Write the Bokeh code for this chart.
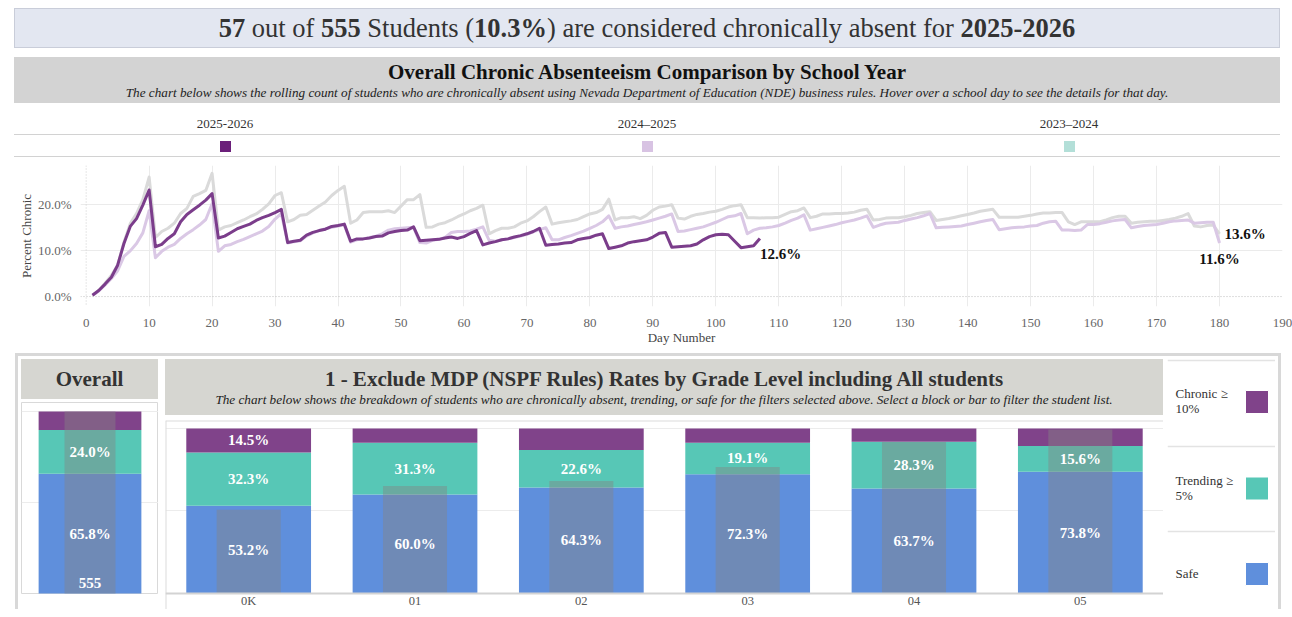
import textwrap
from bokeh.plotting import figure
from bokeh.models import (Div, FactorRange, Range1d, NumeralTickFormatter, FixedTicker,
                          Span, ColumnDataSource)
from bokeh.layouts import column, row
from bokeh.embed import file_html
from bokeh.resources import INLINE
from bokeh.core.properties import value

SERIF = "Liberation Serif"
CSS_FONT = "'Liberation Serif', 'Times New Roman', serif"

# ---------------- data ----------------
current_year = "2025-2026"
chronic_count = 57
total_students = 555
chronic_rate = 10.3

years = ["2025-2026", "2024–2025", "2023–2024"]
legend_colors = ["#6b1f7a", "#d8c3e3", "#b3dfd8"]
line_colors = ["#7b3d8b", "#dac8e5", "#dadada"]

# percent chronic by day number (day 1 ..)
pct_2025_26 = [0.3, 1.3, 2.7, 4.2, 6.8, 11.5, 15.2, 16.9, 19.8, 23.1,
               10.8, 11.3, 12.6, 13.6, 16.2, 17.8, 18.8, 19.8, 20.9, 22.3,
               12.7, 13.1, 13.9, 14.7, 15.2, 15.7, 16.5, 17.1, 17.6, 18.2,
               18.9, 11.7, 12.0, 12.2, 13.3, 13.9, 14.3, 14.6, 15.2, 15.4,
               15.7, 12.0, 12.5, 12.5, 12.7, 13.0, 13.1, 13.8, 14.1, 14.3,
               14.4, 15.1, 12.1, 12.2, 12.3, 12.4, 12.7, 12.9, 12.6, 13.0,
               13.7, 14.3, 11.2, 11.6, 11.9, 12.3, 12.5, 12.9, 13.2, 13.6,
               14.1, 14.8, 11.1, 11.3, 11.4, 11.6, 11.7, 12.3, 12.6, 12.8,
               13.3, 13.6, 10.4, 10.7, 11.0, 11.6, 11.9, 12.1, 12.3, 12.9,
               13.7, 13.9, 10.7, 10.8, 10.9, 11.0, 11.4, 12.3, 13.0, 13.4,
               13.5, 13.4, 12.0, 10.6, 10.8, 11.0, 12.6]

pct_2024_25 = [0.3, 1.2, 2.5, 3.9, 5.6, 8.7, 9.9, 11.5, 13.8, 18.6,
               8.4, 9.8, 10.7, 11.3, 12.6, 13.6, 14.5, 15.5, 16.7, 20.1,
               9.8, 11.0, 11.3, 11.9, 12.4, 13.0, 13.6, 14.2, 15.2, 16.8,
               18.0, 11.6, 11.9, 12.1, 13.1, 13.8, 14.3, 14.7, 15.0, 15.3,
               15.5, 11.8, 12.3, 12.5, 12.8, 13.1, 13.6, 14.4, 14.7, 14.8,
               14.9, 15.0, 11.7, 11.6, 12.2, 12.4, 12.8, 13.9, 14.1, 14.1,
               14.2, 14.6, 15.1, 12.2, 12.0, 12.3, 12.5, 12.8, 13.1, 13.5,
               14.0, 14.5, 14.9, 12.3, 12.3, 12.8, 13.2, 13.7, 14.2, 14.8,
               15.4, 16.2, 17.5, 14.8, 15.1, 15.3, 15.6, 15.9, 16.2, 16.6,
               17.0, 17.4, 17.9, 14.1, 14.2, 14.5, 14.8, 15.1, 15.6, 16.1,
               16.7, 17.3, 17.5, 18.0, 13.6, 14.4, 14.8, 14.9, 15.1, 15.4,
               15.9, 16.5, 17.0, 17.7, 14.4, 14.7, 15.0, 15.3, 15.6, 16.0,
               16.3, 16.6, 17.0, 17.5, 15.0, 15.5, 15.9, 16.0, 16.1, 16.5,
               16.8, 17.1, 17.5, 18.0, 14.9, 15.0, 15.1, 15.2, 15.3, 15.6,
               15.9, 16.2, 16.5, 16.7, 14.5, 14.7, 14.9, 15.0, 15.1, 15.3,
               15.4, 15.9, 16.2, 16.3, 14.4, 14.4, 14.3, 14.4, 15.6, 15.6,
               15.8, 16.1, 16.4, 16.6, 16.7, 14.9, 15.2, 15.4, 15.5, 15.6,
               15.9, 16.2, 16.4, 16.5, 16.6, 15.9, 16.0, 16.1, 16.1, 11.6]

pct_2023_24 = [0.3, 1.3, 2.9, 4.6, 6.8, 11.8, 15.8, 18.0, 21.0, 25.9,
               12.8, 14.1, 14.8, 15.9, 18.0, 19.1, 21.7, 22.3, 23.0, 26.7,
               14.4, 15.1, 15.4, 16.0, 16.6, 17.3, 17.9, 18.9, 20.1, 21.9,
               22.5, 16.2, 16.7, 17.6, 17.8, 18.7, 19.6, 20.5, 21.9, 23.0,
               23.9, 15.9, 16.6, 18.2, 18.4, 18.4, 18.4, 18.6, 18.2, 19.6,
               21.0, 21.0, 22.1, 15.0, 15.1, 15.7, 16.0, 16.6, 17.3, 17.9,
               18.6, 19.1, 19.8, 13.6, 14.3, 14.8, 14.8, 15.1, 15.9, 16.4,
               17.3, 18.4, 19.4, 15.7, 16.0, 16.2, 16.4, 16.7, 17.3, 17.9,
               18.2, 18.9, 21.1, 16.6, 17.1, 17.1, 17.3, 16.9, 17.6, 18.7,
               19.4, 19.6, 19.9, 17.0, 16.8, 17.4, 17.8, 18.0, 18.3, 18.5,
               18.9, 19.4, 19.7, 19.9, 17.1, 17.1, 17.0, 17.1, 17.1, 17.2,
               17.8, 18.4, 18.6, 19.2, 17.1, 17.4, 17.9, 17.9, 18.0, 18.0,
               18.1, 18.3, 18.7, 18.9, 16.6, 16.7, 17.0, 17.1, 17.1, 17.3,
               17.6, 18.0, 18.2, 18.4, 16.5, 16.7, 16.9, 17.2, 17.5, 17.8,
               18.1, 18.5, 18.7, 18.9, 17.2, 17.2, 17.2, 17.2, 17.4, 17.6,
               17.9, 18.1, 18.1, 18.2, 18.2, 16.2, 15.6, 16.2, 16.2, 16.2,
               16.2, 16.6, 17.1, 17.4, 17.4, 15.9, 16.1, 16.2, 16.3, 16.3,
               16.5, 16.7, 17.0, 17.4, 18.0, 15.3, 15.1, 15.4, 15.5, 13.6]

day_ticks = list(range(0, 191, 10))

grades = ["0K", "01", "02", "03", "04", "05"]
safe_pct = [53.2, 60.0, 64.3, 72.3, 63.7, 73.8]
trending_pct = [32.3, 31.3, 22.6, 19.1, 28.3, 15.6]
chronic_pct = [14.5, 8.7, 13.1, 8.6, 8.0, 10.6]
overlay_pct = [50.8, 65.2, 68.2, 76.7, 91.8, 99.4]

overall_safe = 65.8
overall_trending = 24.0
overall_chronic = 10.2
overall_overlay = 100.0

status_labels = ["Chronic ≥ 10%", "Trending ≥ 5%", "Safe"]
status_colors = ["#80438a", "#57c7b6", "#5f8fdc"]
OVERLAY = "#838383"

HEAD_BG = "#d6d6d1"
FF = f"font-family:{CSS_FONT};"


def blank(f):
    f.xaxis.visible = False
    f.yaxis.visible = False
    f.grid.visible = False
    f.outline_line_color = None
    f.background_fill_color = "white"
    f.border_fill_color = "white"


# ---------------- banner ----------------
banner = Div(
    text=(f"<div style=\"{FF}font-size:26.5px;line-height:40px;color:#333;text-align:center\">"
          f"<b>{chronic_count}</b> out of <b>{total_students}</b> Students "
          f"(<b>{chronic_rate:.1f}%</b>) are considered chronically absent for <b>{current_year}</b></div>"),
    width=1266, height=40, margin=(0, 0, 0, 6),
    styles={"background-color": "#e3e7f1", "box-shadow": "inset 0 0 0 1px #c9cdd9",
            "text-align": "center", "font-family": CSS_FONT, "overflow": "hidden"})

sec_head = Div(
    text=(f"<div style=\"{FF}padding-top:3px;font-weight:bold;font-size:21px;line-height:24px;color:#111\">"
          "Overall Chronic Absenteeism Comparison by School Year</div>"
          f"<div style=\"{FF}padding-top:2px;font-style:italic;font-size:13.2px;line-height:14px;color:#222\">"
          "The chart below shows the rolling count of students who are chronically absent using Nevada "
          "Department of Education (NDE) business rules. Hover over a school day to see the details for that day."
          "</div>"),
    width=1266, height=46, margin=(9, 0, 0, 6),
    styles={"background-color": "#d3d3d3", "text-align": "center", "font-family": CSS_FONT,
            "overflow": "hidden"})

# ---------------- year legend (html) ----------------
col_w = 1266 / len(years)
parts = ["<div style='position:relative;width:1266px;height:57px'>"]
for i, (yr, colr) in enumerate(zip(years, legend_colors)):
    cx = col_w * (i + 0.5)
    parts.append(f"<div style=\"{FF}position:absolute;left:{col_w * i:.1f}px;top:14px;width:{col_w:.1f}px;"
                 f"text-align:center;line-height:14px;font-size:13px;color:#333\">{yr}</div>")
    parts.append(f"<div style='position:absolute;left:{cx - 5.5:.1f}px;top:38px;width:11px;height:11px;"
                 f"background:{colr}'></div>")
for yy in (31, 53):
    parts.append(f"<div style='position:absolute;left:0;top:{yy}px;width:1266px;height:0;"
                 f"border-top:1.5px solid #d2d2d2'></div>")
parts.append("</div>")
year_legend = Div(text="".join(parts), width=1266, height=57, margin=(0, 0, 0, 6),
                  styles={"font-family": CSS_FONT})

# ---------------- line chart ----------------
lc = figure(width=1278, height=187, x_range=Range1d(-0.9, 190), y_range=Range1d(-0.0215, 0.284),
            output_backend="svg", toolbar_location=None,
            min_border_left=66, min_border_right=10, min_border_top=5, min_border_bottom=38,
            margin=(0, 0, 0, 6))
lc.outline_line_color = None
lc.border_fill_color = "white"

series = [(pct_2023_24, line_colors[2]), (pct_2024_25, line_colors[1]), (pct_2025_26, line_colors[0])]
for vals, col in series:
    days = list(range(1, len(vals) + 1))
    lc.line(days, [v / 100 for v in vals], line_color=col, line_width=3, line_join="round")

end_src = ColumnDataSource(dict(
    x=[len(pct_2025_26), len(pct_2024_25), len(pct_2023_24)],
    y=[pct_2025_26[-1] / 100, pct_2024_25[-1] / 100, pct_2023_24[-1] / 100],
    t=[f"{pct_2025_26[-1]:.1f}%", f"{pct_2024_25[-1]:.1f}%", f"{pct_2023_24[-1]:.1f}%"],
    align=["left", "center", "left"], dx=[0, 0, 5], dy=[16, 16, 0]))
lc.text(x="x", y="y", text="t", text_align="align", x_offset="dx", y_offset="dy",
        text_baseline="middle", text_font=value(SERIF), text_font_style="bold",
        text_font_size="15px", text_color="#111111", source=end_src)

lc.xaxis.ticker = FixedTicker(ticks=day_ticks)
lc.xaxis.axis_label = "Day Number"
lc.yaxis.ticker = FixedTicker(ticks=[0, 0.1, 0.2])
lc.yaxis.formatter = NumeralTickFormatter(format="0.0%")
lc.yaxis.axis_label = "Percent Chronic"
for ax in (lc.xaxis[0], lc.yaxis[0]):
    ax.axis_line_color = None
    ax.major_tick_line_color = None
    ax.minor_tick_line_color = None
    ax.major_label_text_font = SERIF
    ax.major_label_text_font_size = "13px"
    ax.major_label_text_color = "#666666"
    ax.axis_label_text_font = SERIF
    ax.axis_label_text_font_size = "13px"
    ax.axis_label_text_font_style = "normal"
    ax.axis_label_text_color = "#444444"
lc.xaxis.major_label_standoff = 6
lc.xaxis.axis_label_standoff = 0
lc.yaxis.major_label_standoff = 3
lc.yaxis.axis_label_standoff = 1
lc.xgrid.ticker = FixedTicker(ticks=day_ticks[1:-1])
lc.ygrid.ticker = FixedTicker(ticks=[0.1, 0.2])
lc.grid.grid_line_color = "#ebebeb"
lc.add_layout(Span(location=0, dimension="width", line_color="#bdbdbd", line_dash="1 2", line_width=1))
lc.add_layout(Span(location=0, dimension="height", line_color="#cfcfcf", line_dash="1 2", line_width=1))

# ---------------- overall bar ----------------
ov_head = Div(text=f"<div style=\"{FF}\">Overall</div>", width=137, height=40, margin=(3, 0, 0, 3),
              styles={"background-color": HEAD_BG, "text-align": "center", "font-family": CSS_FONT,
                      "font-size": "21px", "font-weight": "bold", "line-height": "40px",
                      "color": "#333333"})

ov_src = ColumnDataSource(dict(
    g=["Overall"],
    s_top=[overall_safe / 100], t_top=[(overall_safe + overall_trending) / 100],
    c_top=[(overall_safe + overall_trending + overall_chronic) / 100],
    ov=[overall_overlay / 100],
    s_mid=[overall_safe / 200], t_mid=[(overall_safe + overall_trending / 2) / 100],
    s_lbl=[f"{overall_safe:.1f}%"], t_lbl=[f"{overall_trending:.1f}%"],
    n_lbl=[str(total_students)], zero=[0]))

ov = figure(width=137, height=192, x_range=FactorRange("Overall"), y_range=Range1d(-0.0055, 1.0495),
            output_backend="svg", toolbar_location=None, min_border=0, margin=(3, 0, 0, 3))
ov.xaxis.visible = False
ov.yaxis.visible = False
ov.xgrid.visible = False
ov.ygrid.ticker = FixedTicker(ticks=[0.5, 1.0])
ov.ygrid.grid_line_color = "#ececec"
ov.outline_line_color = "#d9d9d9"
ov.vbar(x="g", bottom=0, top="s_top", width=0.75, fill_color=status_colors[2], line_color=None, source=ov_src)
ov.vbar(x="g", bottom="s_top", top="t_top", width=0.75, fill_color=status_colors[1], line_color=None, source=ov_src)
ov.vbar(x="g", bottom="t_top", top="c_top", width=0.75, fill_color=status_colors[0], line_color=None, source=ov_src)
ov.vbar(x="g", bottom=0, top="ov", width=0.372, fill_color=OVERLAY, fill_alpha=0.43, line_color=None, source=ov_src)
lbl_kw = dict(text_align="center", text_font=value(SERIF), text_font_style="bold",
              text_font_size="15px", text_color="white")
ov.text(x="g", y="t_mid", text="t_lbl", text_baseline="middle", source=ov_src, **lbl_kw)
ov.text(x="g", y="s_mid", text="s_lbl", text_baseline="middle", source=ov_src, **lbl_kw)
ov.text(x="g", y="zero", text="n_lbl", text_baseline="bottom", y_offset=-5, source=ov_src, **lbl_kw)

# ---------------- grade bars ----------------
gr_head = Div(
    text=(f"<div style=\"{FF}padding-top:8px;font-weight:bold;font-size:21px;line-height:24px;color:#333\">"
          "1 - Exclude MDP (NSPF Rules) Rates by Grade Level including All students</div>"
          f"<div style=\"{FF}padding-top:2px;font-style:italic;font-size:13.2px;line-height:14px;color:#222\">"
          "The chart below shows the breakdown of students who are chronically absent, trending, or safe "
          "for the filters selected above. Select a block or bar to filter the student list.</div>"),
    width=998, height=56, margin=(3, 0, 0, 7),
    styles={"background-color": HEAD_BG, "text-align": "center", "font-family": CSS_FONT,
            "overflow": "hidden"})

g_src = ColumnDataSource(dict(
    g=grades,
    s_top=[s / 100 for s in safe_pct],
    t_top=[(s + t) / 100 for s, t in zip(safe_pct, trending_pct)],
    c_top=[(s + t + c) / 100 for s, t, c in zip(safe_pct, trending_pct, chronic_pct)],
    ov=[o / 100 for o in overlay_pct],
    s_mid=[s / 200 for s in safe_pct],
    t_mid=[(s + t / 2) / 100 for s, t in zip(safe_pct, trending_pct)],
    c_mid=[(s + t + c / 2) / 100 for s, t, c in zip(safe_pct, trending_pct, chronic_pct)],
    s_lbl=[f"{s:.1f}%" for s in safe_pct],
    t_lbl=[f"{t:.1f}%" for t in trending_pct],
    c_lbl=[f"{c:.1f}%" if c >= 14 else "" for c in chronic_pct],
    zero=[0] * len(grades)))

# frame runs to the bottom of the figure; category labels drawn inside it below zero
gf = figure(width=998, height=189, x_range=FactorRange(*grades), y_range=Range1d(-0.097, 1.0485),
            output_backend="svg", toolbar_location=None, min_border=0, margin=(5, 0, 0, 7))
gf.xaxis.visible = False
gf.yaxis.visible = False
gf.xgrid.visible = False
gf.ygrid.ticker = FixedTicker(ticks=[0.5, 1.0])
gf.ygrid.grid_line_color = "#ececec"
gf.outline_line_color = None
gf.add_layout(Span(location=1.0485, dimension="width", line_color="#dcdcdc", line_width=2))
gf.add_layout(Span(location=0, dimension="height", line_color="#dcdcdc", line_width=2))
gf.vbar(x="g", bottom=0, top="s_top", width=0.75, fill_color=status_colors[2], line_color=None, source=g_src)
gf.vbar(x="g", bottom="s_top", top="t_top", width=0.75, fill_color=status_colors[1], line_color=None, source=g_src)
gf.vbar(x="g", bottom="t_top", top="c_top", width=0.75, fill_color=status_colors[0], line_color=None, source=g_src)
gf.vbar(x="g", bottom=0, top="ov", width=0.385, fill_color=OVERLAY, fill_alpha=0.43, line_color=None, source=g_src)
gf.add_layout(Span(location=0, dimension="width", line_color="#d3d3d3", line_width=2))
gf.text(x="g", y="s_mid", text="s_lbl", text_baseline="middle", source=g_src, **lbl_kw)
gf.text(x="g", y="t_mid", text="t_lbl", text_baseline="middle", source=g_src, **lbl_kw)
gf.text(x="g", y="c_mid", text="c_lbl", text_baseline="middle", source=g_src, **lbl_kw)
gf.text(x="g", y="zero", text="g", text_align="center", text_baseline="middle", y_offset=8,
        text_font=value(SERIF), text_font_size="12.5px", text_color="#555555", source=g_src)

# ---------------- status legend ----------------
sl = figure(width=108, height=251, x_range=Range1d(0, 108), y_range=Range1d(251, 0),
            output_backend="svg", toolbar_location=None, min_border=0, margin=(2, 3, 0, 4))
blank(sl)
row_centers = [43.5, 130, 215.5]
txt_x, txt_y, txt_t = [], [], []
for lab, yc in zip(status_labels, row_centers):
    lines = textwrap.wrap(lab, 10)
    n = len(lines)
    for i, ln in enumerate(lines):
        txt_x.append(8)
        txt_y.append(yc - 7.5 * (n - 1) + 15 * i - 1)
        txt_t.append(ln)
sl.text(x=txt_x, y=txt_y, text=txt_t, text_align="left", text_baseline="middle",
        text_font=value(SERIF), text_font_size="13px", text_color="#333333")
sl.scatter(x=[89.5] * 3, y=row_centers, marker="square", size=23, fill_color=status_colors,
           line_color="#ffffff", line_width=1)
for yy in (2, 88, 173):
    sl.add_layout(Span(location=yy, dimension="width", line_color="#e3e3e3", line_width=1.5))

bottom = row(column(ov_head, ov), column(gr_head, gf), sl,
             margin=(6, 0, 0, 7),
             styles={"border-top": "3px solid #d8d8d8", "border-left": "3px solid #d8d8d8",
                     "border-right": "3px solid #d8d8d8"})

page = column(banner, sec_head, year_legend, lc, bottom, margin=(8, 0, 0, 8))

with open("out.html", "w") as fh:
    fh.write(file_html(page, INLINE))
